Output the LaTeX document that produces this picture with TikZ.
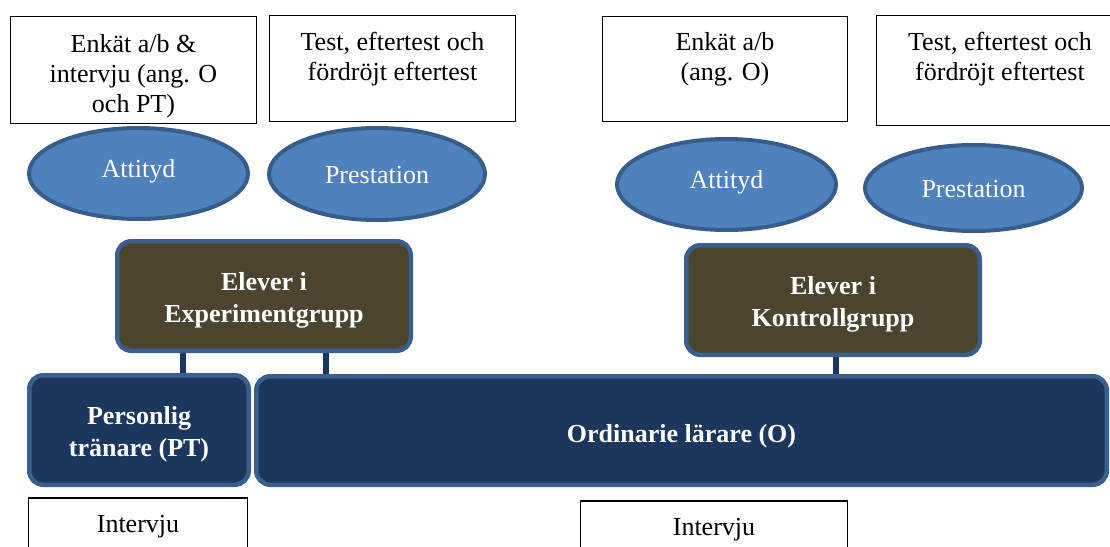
\documentclass[tikz,border=0pt]{standalone}
\usepackage{fontspec}
\setmainfont{Liberation Serif}
\usetikzlibrary{shapes.geometric,backgrounds}
\definecolor{olivefill}{HTML}{4B4530}
\definecolor{bordblue}{HTML}{3B5F8D}
\definecolor{navyfill}{HTML}{1B375D}
\definecolor{ellfill}{HTML}{4F81BD}
\definecolor{ellbord}{HTML}{385D8A}
\tikzset{
  rbox/.style={rectangle, rounded corners=14pt, draw=bordblue, line width=4.5pt, inner sep=0pt},
  egbox/.style={rbox, fill=olivefill},
  nbox/.style={rbox, fill=navyfill},
  ell/.style={ellipse, draw=ellbord, fill=ellfill, line width=4pt, inner sep=0pt},
  wbox/.style={rectangle, draw=black, line width=1.1pt, fill=white, inner sep=0pt},
  conn/.style={draw=navyfill, line width=6pt},
  reg/.style={font=\fontsize{26}{30}\selectfont, inner sep=0pt, align=center, text=black},
  wt/.style={font=\fontsize{26}{30}\selectfont, inner sep=0pt, text=white},
  bt/.style={font=\fontsize{26}{32}\selectfont\bfseries, inner sep=0pt, align=center, text=white},
}
\begin{document}
\begin{tikzpicture}[x=1pt,y=-1pt]
\useasboundingbox (0,0) rectangle (1110,546);
\clip (0,0) rectangle (1110,546);
% top boxes
\node[wbox, minimum width=246pt, minimum height=107pt] (b1) at (133.5,70) {};
\node[wbox, minimum width=246pt, minimum height=106pt] (b2) at (392.5,68.5) {};
\node[wbox, minimum width=245pt, minimum height=105pt] (b3) at (725,69) {};
\node[wbox, minimum width=247pt, minimum height=110pt] (b4) at (1000,70.5) {};
\node[reg, anchor=north] (b1t) at (133.5,34) {Enkät a/b \&\\intervju (ang. O\\och PT)};
\node[reg, anchor=north] (b2t) at (392.5,32) {Test, eftertest och\\fördröjt eftertest};
\node[reg, anchor=north] (b3t) at (725,32) {Enkät a/b\\(ang. O)};
\node[reg, anchor=north] (b4t) at (1000,32) {Test, eftertest och\\fördröjt eftertest};
% ellipses
\node[ell, minimum width=219pt, minimum height=91pt] (a1) at (138.5,173.5) {};
\node[ell, minimum width=216pt, minimum height=92pt] (p1) at (377,174) {};
\node[ell, minimum width=219pt, minimum height=91pt] (a2) at (726.5,184.5) {};
\node[ell, minimum width=217pt, minimum height=86pt] (p2) at (973.5,188) {};
\node[wt, anchor=base] (a1t) at (138.5,177) {Attityd};
\node[wt, anchor=base] (p1t) at (377,183) {Prestation};
\node[wt, anchor=base] (a2t) at (726.5,188) {Attityd};
\node[wt, anchor=base] (p2t) at (973.5,197) {Prestation};
% rounded boxes
\node[egbox, minimum width=293.5pt, minimum height=109.5pt] (eg) at (264,296) {};
\node[egbox, minimum width=293.5pt, minimum height=109.5pt] (kg) at (833,300) {};
\node[nbox, minimum width=219.5pt, minimum height=109.5pt] (pt) at (139,430) {};
\node[nbox, minimum width=850.5pt, minimum height=108.5pt] (ol) at (681.5,430.5) {};
\node[bt, anchor=north] (egt) at (264,272) {Elever i\\Experimentgrupp};
\node[bt, anchor=north] (kgt) at (833,276) {Elever i\\Kontrollgrupp};
\node[bt, anchor=north] (ptt) at (139,406) {Personlig\\tränare (PT)};
\node[bt, anchor=base] (olt) at (681.5,442) {Ordinarie lärare (O)};
% connectors
\coordinate (c1) at (183,0);
\coordinate (c2) at (326,0);
\coordinate (c3) at (836,0);
\begin{scope}[on background layer]
\draw[conn] (eg.south -| c1) -- (pt.north -| c1);
\draw[conn] (eg.south -| c2) -- (ol.north -| c2);
\draw[conn] (kg.south -| c3) -- (ol.north -| c3);
\end{scope}
% bottom boxes
\node[wbox, minimum width=219pt, minimum height=72pt] (i1) at (138,534) {};
\node[wbox, minimum width=267pt, minimum height=69pt] (i2) at (714,535.5) {};
\node[reg, anchor=base] (i1t) at (138,532) {Intervju};
\node[reg, anchor=base] (i2t) at (714,535) {Intervju};
\end{tikzpicture}
\end{document}
